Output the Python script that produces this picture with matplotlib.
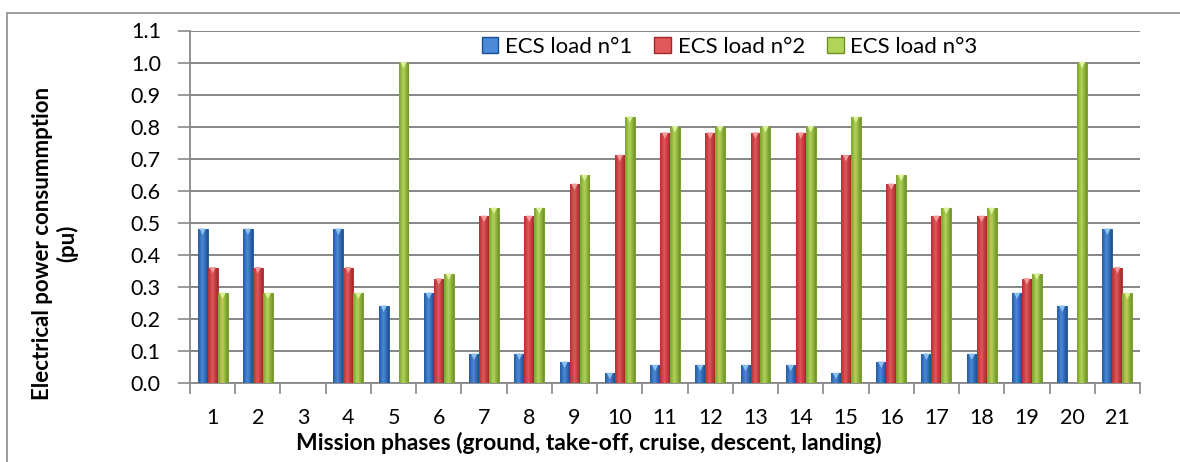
import matplotlib
matplotlib.use("Agg")
import matplotlib.pyplot as plt
import numpy as np
from matplotlib.colors import LinearSegmentedColormap
from matplotlib.patches import Rectangle

plt.rcParams["font.family"] = ["Lato", "DejaVu Sans"]

phases = [str(i) for i in range(1, 22)]
load_1 = [0.48, 0.48, 0.0, 0.48, 0.24, 0.28, 0.09, 0.09, 0.065, 0.03, 0.055,
          0.055, 0.055, 0.055, 0.03, 0.065, 0.09, 0.09, 0.28, 0.24, 0.48]
load_2 = [0.36, 0.36, 0.0, 0.36, 0.0, 0.325, 0.52, 0.52, 0.62, 0.71, 0.78,
          0.78, 0.78, 0.78, 0.71, 0.62, 0.52, 0.52, 0.325, 0.0, 0.36]
load_3 = [0.28, 0.28, 0.0, 0.28, 1.0, 0.34, 0.545, 0.545, 0.648, 0.83, 0.80,
          0.80, 0.80, 0.80, 0.83, 0.648, 0.545, 0.545, 0.34, 1.0, 0.28]
series_names = ["ECS load n°1", "ECS load n°2", "ECS load n°3"]

# (dark edge, light centre, cap) per series
palettes = [
    ("#1c4f94", "#4a8ad6", "#8ec0f0"),
    ("#a6262a", "#e0585a", "#f29a9a"),
    ("#6f9424", "#b0d458", "#dcef9a"),
]

fig = plt.figure(figsize=(11.8, 4.62), dpi=100)
ax = fig.add_axes([190 / 1180, 1 - 383 / 462, 950 / 1180, (383 - 30.5) / 462])

x = np.arange(len(phases))
width = 0.22
grad = np.linspace(0, 1, 64)
grad = np.abs(grad - 0.45)
grad = 1 - grad / grad.max()
grad = grad.reshape(1, -1)

for k, (values, name) in enumerate(zip([load_1, load_2, load_3], series_names)):
    dark, light, cap = palettes[k]
    cmap = LinearSegmentedColormap.from_list(name, [dark, light])
    offs = x + (k - 1) * width
    bars = ax.bar(offs, values, width, color=light, edgecolor=dark,
                  linewidth=0.6, label=name, zorder=3)
    for b in bars:
        h = b.get_height()
        if h <= 0:
            continue
        bx, bw = b.get_x(), b.get_width()
        im = ax.imshow(grad, cmap=cmap, aspect="auto",
                       extent=[bx, bx + bw, 0, h], zorder=3.5,
                       interpolation="bicubic")
        im.set_clip_path(b)
        ax.scatter([bx + bw / 2], [h - 0.008], marker="v", s=22,
                   color=cap, edgecolors="none", zorder=4)

ax.set_xlim(-0.5, len(phases) - 0.5)
ax.set_ylim(0, 1.1)
yt = np.arange(0, 1.11, 0.1)
ax.set_yticks(yt)
ax.set_yticklabels([f"{v:.1f}" for v in yt], fontsize=15.5)
ax.set_xticks(x)
ax.set_xticklabels(phases, fontsize=15.5)
ax.set_xticks(np.arange(-0.5, len(phases), 1), minor=True)
ax.tick_params(axis="x", which="major", length=0, pad=18)
ax.tick_params(axis="x", which="minor", length=8, width=1.2, color="#888888")
ax.tick_params(axis="y", length=9, width=1.2, color="#888888", pad=12)

ax.grid(axis="y", color="#868686", linewidth=1.4, zorder=0)
ax.set_axisbelow(True)
for side in ["top", "right"]:
    ax.spines[side].set_visible(False)
for side in ["left", "bottom"]:
    ax.spines[side].set_color("#888888")
    ax.spines[side].set_linewidth(1.3)

ax.set_xlabel("Mission phases (ground, take-off, cruise, descent, landing)",
              fontsize=16.5, fontweight="bold")
ax.xaxis.set_label_coords((589 - 190) / 950, (383 - 443) / 352.5)
ax.xaxis.label.set_va("center")
ax.set_ylabel("Electrical power consummption\n(pu)", fontsize=16,
              fontweight="bold", linespacing=1.15)
ax.yaxis.set_label_coords((55 - 190) / 950, (383 - 243) / 352.5)
ax.yaxis.label.set_va("center")

proxies = [Rectangle((0, 0), 1, 1, facecolor=palettes[i][1],
                     edgecolor=palettes[i][0]) for i in range(3)]
ax.legend(proxies, series_names, loc="center",
          bbox_to_anchor=(0.568, (383 - 47) / 352.5),
          ncol=3, frameon=False, fontsize=16, handlelength=0.75,
          handleheight=0.75, handletextpad=0.3, columnspacing=1.0,
          borderaxespad=0.0, borderpad=0.0)

frame = Rectangle((7 / 1180, -0.1), 1.2, 1 - 13 / 462 + 0.1,
                  transform=fig.transFigure, fill=False,
                  edgecolor="#8c8c8c", linewidth=1.2)
fig.patches.append(frame)

fig.savefig("out.png", dpi=100)
